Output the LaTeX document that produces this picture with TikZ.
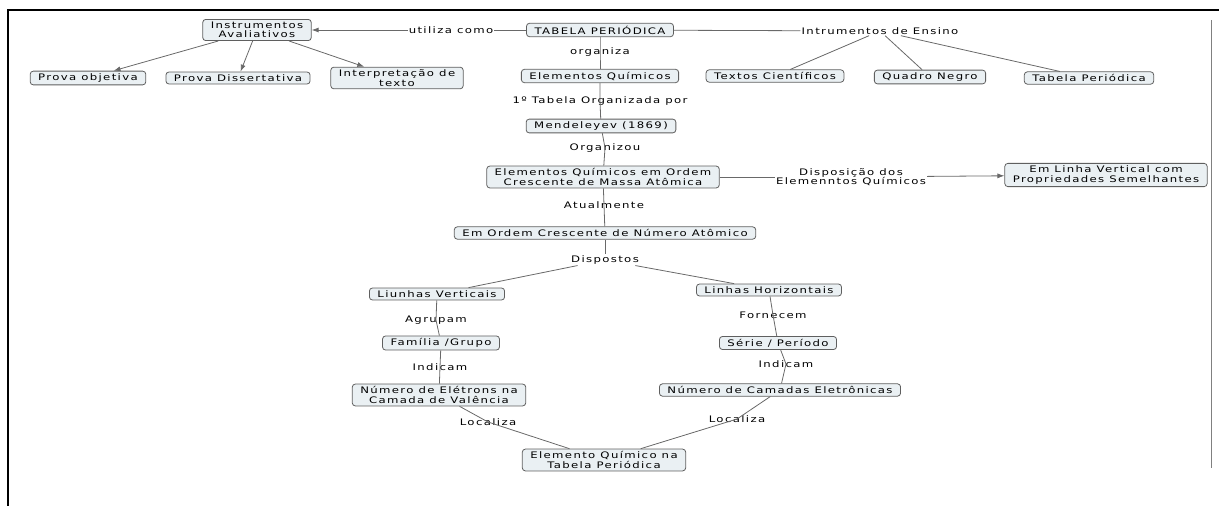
\documentclass[tikz,border=0pt]{standalone}
\usepackage{fontspec}
\newfontfamily\cmfont[FakeStretch=1.3,LetterSpace=15]{DejaVu Sans}
\usetikzlibrary{arrows.meta}
\definecolor{cfill}{RGB}{234,240,243}
\definecolor{cborder}{RGB}{95,95,95}
\definecolor{lncol}{RGB}{105,105,105}
\begin{document}
\begin{tikzpicture}[x=1pt,y=-1pt,
  concept/.style={draw=cborder, fill=cfill, rounded corners=3pt, line width=0.8pt,
    inner xsep=8pt, inner ysep=2.5pt, align=center,
    font={\cmfont\fontsize{9}{9.5}\selectfont}},
  lbl/.style={inner sep=1pt, align=center, font={\cmfont\fontsize{9}{9.5}\selectfont}},
  ln/.style={draw=lncol, line width=0.8pt},
  arr/.style={ln, -{Latex[length=7pt,width=5pt]}, }
]
\useasboundingbox (0,0) rectangle (1219,506);
% frame
\draw[line width=2pt] (8,506) -- (8,10) -- (1219,10);
\draw[gray, line width=0.8pt] (1211,20) -- (1211,468);

% concepts
\node[concept] (tp)  at (600,30)  {TABELA PERIÓDICA};
\node[concept] (ia)  at (257,30)  {Instrumentos\\Avaliativos};
\node[concept] (po)  at (88,78)   {Prova objetiva};
\node[concept] (pd)  at (238,78)  {Prova Dissertativa};
\node[concept] (it)  at (397,78)  {Interpretação de\\texto};
\node[concept] (eq)  at (600,76)  {Elementos Químicos};
\node[concept] (tc)  at (775,76)  {Textos Científicos};
\node[concept] (qn)  at (930,77)  {Quadro Negro};
\node[concept] (tpe) at (1089,78) {Tabela Periódica};
\node[concept] (men) at (601,126) {Mendeleyev (1869)};
\node[concept] (eqo) at (603,177) {Elementos Químicos em Ordem\\Crescente de Massa Atômica};
\node[concept] (elv) at (1106,175) {Em Linha Vertical com\\Propriedades Semelhantes};
\node[concept] (eoc) at (605,233) {Em Ordem Crescente de Número Atômico};
\node[concept] (lv)  at (437,294) {Liunhas Verticais};
\node[concept] (lh)  at (769,290) {Linhas Horizontais};
\node[concept] (fg)  at (441,343) {Família /Grupo};
\node[concept] (sp)  at (778,343) {Série / Período};
\node[concept] (ne)  at (439,395) {Número de Elétrons na\\Camada de Valência};
\node[concept] (nc)  at (780,390) {Número de Camadas Eletrônicas};
\node[concept] (eqt) at (604,460) {Elemento Químico na\\Tabela Periódica};

% linking phrases
\node[lbl] (uc)  at (451,30)  {utiliza como};
\node[lbl] (ie)  at (880,31)  {Intrumentos de Ensino};
\node[lbl] (org) at (600,52)  {organiza};
\node[lbl] (tob) at (600,101) {1º Tabela Organizada por};
\node[lbl] (ozu) at (605,148) {Organizou};
\node[lbl] (dq)  at (851,177) {Disposição dos\\Elemenntos Químicos};
\node[lbl] (atu) at (604,205) {Atualmente};
\node[lbl] (dis) at (605,260) {Dispostos};
\node[lbl] (agr) at (436,320) {Agrupam};
\node[lbl] (forn) at (773,315) {Fornecem};
\node[lbl] (ind1) at (440,367) {Indicam};
\node[lbl] (ind2) at (786,364) {Indicam};
\node[lbl] (loc1) at (488,422) {Localiza};
\node[lbl] (loc2) at (737,419) {Localiza};

% connectors
\draw[ln] (tp) -- (uc);
\draw[arr] (uc) -- (ia);
\draw[ln] (tp) -- (ie);
\draw[arr] (ia) -- (po);
\draw[arr] (ia) -- (pd);
\draw[arr] (ia) -- (it);
\draw[ln] (ie) -- (tc);
\draw[ln] (ie) -- (qn);
\draw[ln] (ie) -- (tpe);
\draw[ln] (tp) -- (org.center) -- (eq);
\draw[ln] (eq) -- (tob.center) -- (men);
\draw[ln] (men) -- (ozu.center) -- (eqo);
\draw[ln] (eqo) -- (atu.center) -- (eoc);
\draw[ln] (eqo) -- (dq);
\draw[arr] (dq) -- (elv);
\draw[ln] (eoc) -- (dis);
\draw[ln] (dis) -- (lv);
\draw[ln] (dis) -- (lh);
\draw[ln] (lv) -- (agr.center) -- (fg);
\draw[ln] (fg) -- (ind1.center) -- (ne);
\draw[ln] (lh) -- (forn.center) -- (sp);
\draw[ln] (sp) -- (ind2.center) -- (nc);
\draw[ln] (ne) -- (loc1.center) -- (eqt);
\draw[ln] (nc) -- (loc2.center) -- (eqt);
\end{tikzpicture}
\end{document}
